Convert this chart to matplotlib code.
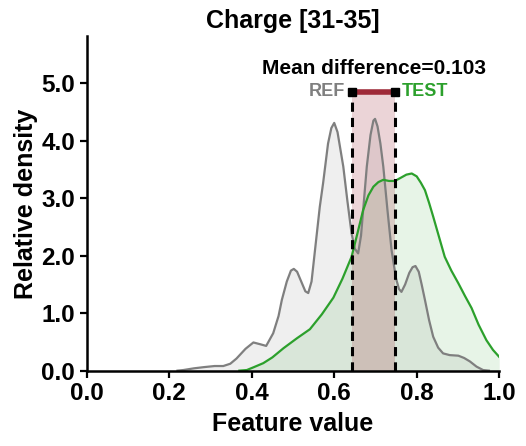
import matplotlib
matplotlib.use("Agg")
import matplotlib.pyplot as plt

plt.rcParams["font.family"] = ["Liberation Sans", "DejaVu Sans"]
plt.rcParams["font.weight"] = "bold"

# density curves (feature value, relative density)
ref_x = [0.22, 0.234, 0.26, 0.283, 0.31, 0.331, 0.348, 0.363, 0.385, 0.404, 0.42, 0.435,
         0.452, 0.465, 0.473, 0.485, 0.495, 0.502, 0.51, 0.52, 0.53, 0.537, 0.545, 0.555,
         0.565, 0.573, 0.585, 0.593, 0.600, 0.608, 0.615, 0.622, 0.632, 0.642, 0.650, 0.658,
         0.665, 0.672, 0.679, 0.688, 0.695, 0.699, 0.705, 0.712, 0.719, 0.729, 0.739, 0.75,
         0.757, 0.763, 0.772, 0.782, 0.790, 0.797, 0.805, 0.812, 0.820, 0.830, 0.840, 0.852,
         0.864, 0.88, 0.901, 0.915, 0.929, 0.945, 0.961, 0.975]
ref_y = [0.0, 0.01, 0.04, 0.06, 0.08, 0.08, 0.12, 0.21, 0.38, 0.49, 0.46, 0.43,
         0.65, 0.95, 1.23, 1.55, 1.74, 1.77, 1.72, 1.55, 1.38, 1.35, 1.55, 2.2,
         2.85, 3.26, 3.95, 4.22, 4.31, 4.15, 3.85, 3.55, 2.95, 2.39, 2.12, 2.04,
         2.35, 2.95, 3.55, 4.1, 4.35, 4.38, 4.25, 3.95, 3.55, 2.8, 2.10, 1.6,
         1.42, 1.37, 1.5, 1.7, 1.8, 1.82, 1.72, 1.5, 1.23, 0.88, 0.59, 0.40,
         0.30, 0.27, 0.26, 0.22, 0.16, 0.07, 0.01, 0.0]

test_x = [0.37, 0.388, 0.405, 0.428, 0.45, 0.477, 0.509, 0.541, 0.57, 0.598, 0.62, 0.642,
          0.656, 0.670, 0.683, 0.695, 0.707, 0.719, 0.733, 0.747, 0.76, 0.775, 0.788, 0.8,
          0.810, 0.820, 0.830, 0.840, 0.854, 0.868, 0.884, 0.901, 0.917, 0.933, 0.950, 0.969,
          0.985, 1.0]
test_y = [0.0, 0.01, 0.06, 0.13, 0.23, 0.39, 0.56, 0.72, 0.98, 1.27, 1.6, 1.98,
          2.38, 2.79, 3.05, 3.20, 3.28, 3.32, 3.30, 3.30, 3.35, 3.41, 3.43, 3.38,
          3.27, 3.14, 2.92, 2.68, 2.33, 1.98, 1.74, 1.52, 1.3, 1.09, 0.8, 0.53,
          0.36, 0.24]

ref_mean = 0.644
test_mean = 0.747
bar_y = 4.85

GRAY = "#7f7f7f"
GREEN = "#2ca02c"
RED = "#9e2a38"

fig = plt.figure(figsize=(5.26, 4.46), dpi=100)
ax = fig.add_axes([0.165, 0.169, 0.784, 0.75])

ax.fill_between(ref_x, ref_y, color=GRAY, alpha=0.12, lw=0)
ax.plot(ref_x, ref_y, color=GRAY, lw=1.6)
ax.fill_between(test_x, test_y, color=GREEN, alpha=0.11, lw=0)
ax.plot(test_x, test_y, color=GREEN, lw=1.6)

ax.axvspan(ref_mean, test_mean, ymax=bar_y / 5.82, color=RED, alpha=0.2, lw=0)
for m in (ref_mean, test_mean):
    ax.plot([m, m], [0, bar_y], color="black", ls="--", lw=2.2, dashes=(3, 2))
ax.plot([ref_mean, test_mean], [bar_y, bar_y], color=RED, lw=4, solid_capstyle="butt")
ax.plot([ref_mean, test_mean], [bar_y, bar_y], ls="none", marker="s", ms=6, color="black")

ax.text((ref_mean + test_mean) / 2, 5.1, f"Mean difference={test_mean - ref_mean:.3f}",
        ha="center", va="bottom", fontsize=15, fontweight="bold")
ax.text(ref_mean - 0.018, bar_y, "REF", ha="right", va="center", color=GRAY,
        fontsize=13, fontweight="bold")
ax.text(test_mean + 0.016, bar_y, "TEST", ha="left", va="center", color=GREEN,
        fontsize=13, fontweight="bold")

ax.set_xlim(0, 1.0)
ax.set_ylim(0, 5.82)
ax.set_xticks([0.0, 0.2, 0.4, 0.6, 0.8, 1.0])
ax.set_yticks([0.0, 1.0, 2.0, 3.0, 4.0, 5.0])
ax.set_xticklabels([f"{t:.1f}" for t in ax.get_xticks()])
ax.set_yticklabels([f"{t:.1f}" for t in ax.get_yticks()])
ax.tick_params(labelsize=17.5, width=1.6, length=5)
ax.set_xlabel("Feature value", fontsize=18, fontweight="bold", labelpad=5)
ax.set_ylabel("Relative density", fontsize=18, fontweight="bold", labelpad=2)
ax.set_title("Charge [31-35]", fontsize=18, fontweight="bold", pad=6)
for s in ("top", "right"):
    ax.spines[s].set_visible(False)
for s in ("left", "bottom"):
    ax.spines[s].set_linewidth(1.8)

fig.savefig("out.png", dpi=100)
